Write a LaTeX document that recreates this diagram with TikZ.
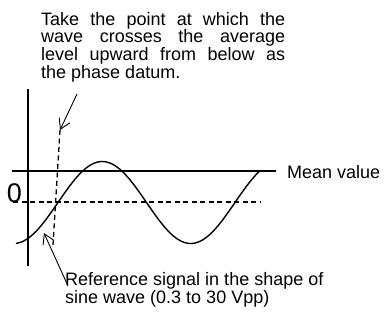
\documentclass[tikz,border=0pt]{standalone}
\usepackage{fontspec}
\setmainfont{Liberation Sans}
\usetikzlibrary{arrows.meta}

\begin{document}
\begin{tikzpicture}[
      x=1pt, y=-1pt,
      every node/.style={font=\fontsize{18}{17.7}\selectfont, inner sep=0pt},
      note/.style={anchor=base west},
      levelline/.style={line width=1.1pt},
      dashline/.style={line width=1.3pt, dash pattern=on 5pt off 3.5pt},
      wave/.style={line width=1.4pt},
      arrow/.style={-{Straight Barb[length=10pt, width=12pt]}, line width=0.9pt}
    ]
      \useasboundingbox (0,0) rectangle (389,333);

      % Texts
      \node[note, text width=244pt, align=justify] (datum) at (41,25) {Take the point at which the\linebreak wave crosses the average\linebreak level upward from below as\linebreak the phase datum.};
      \node[note] (meanlbl) at (287,178) {Mean value};
      \node[anchor=base, font=\fontsize{27}{27}\selectfont] (zerolbl) at (14.5,202) {0};
      \node[note, align=left] (refsig) at (65,303) {Reference signal in the shape of\\sine wave (0.3 to 30 Vpp)};

      % Axis and levels
      \coordinate (axistop) at (28,89);
      \coordinate (axisbot) at (28,266);
      \coordinate (meanL) at (12,171);
      \coordinate (meanR) at (276,171);
      \coordinate (zeroL) at (13,202);
      \coordinate (zeroR) at (260,202);
      \coordinate (datumtip) at (60,130);
      \coordinate (datumfoot) at (53,245);
      \coordinate (datumtail) at (77,94);
      \coordinate (reftip) at (44,233);
      \coordinate (reftail) at (68,286);

      \draw[levelline] (axistop) -- (axisbot);
      \draw[levelline] (meanL) -- (meanR);
      \draw[dashline] (zeroL) -- (zeroR);
      \draw[dashline] (datumtip) -- (datumfoot);

      % Reference signal
      \draw[wave, domain=16:260, samples=120, smooth] plot ({\x},{202.5-41*sin(2.0339*(\x-58))});

      % Pointers
      \draw[arrow] (datumtail) -- (datumtip);
      \draw[arrow] (reftail) -- (reftip);
    \end{tikzpicture}
\end{document}
